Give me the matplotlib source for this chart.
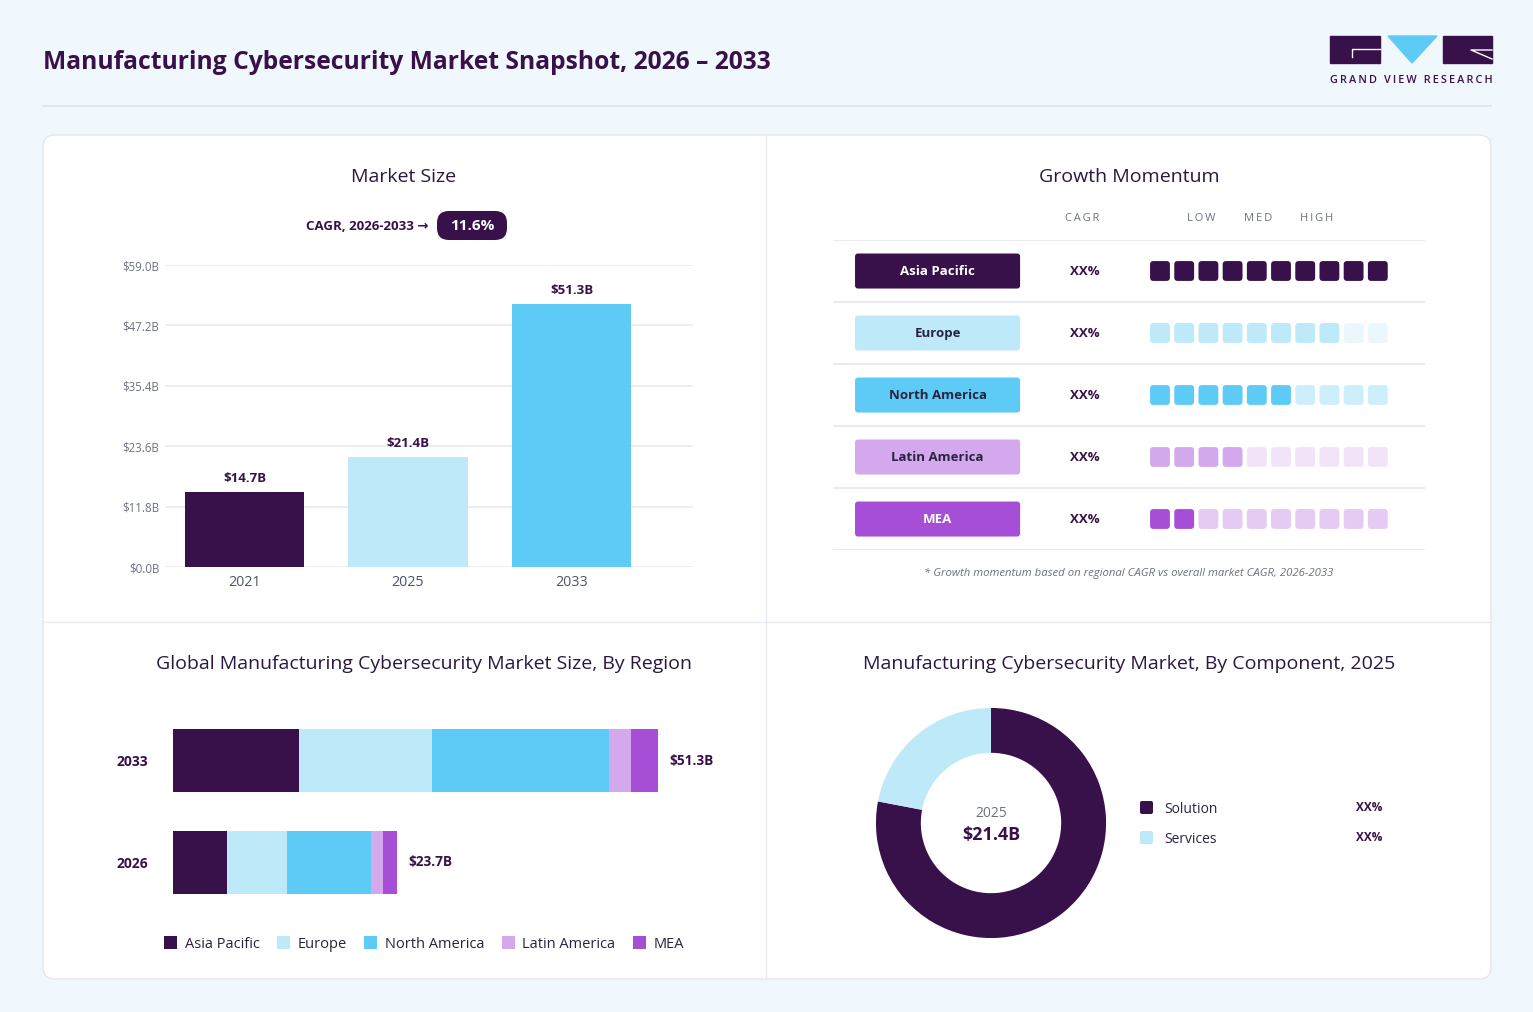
import matplotlib
matplotlib.use("Agg")
from matplotlib import pyplot as plt
from matplotlib.patches import FancyBboxPatch, Rectangle, Polygon, Patch

plt.rcParams['font.family'] = ['Open Sans', 'DejaVu Sans']

# ---- data ----
size_years = ["2021", "2025", "2033"]
size_values = [14.7, 21.4, 51.3]
size_ticks = [0.0, 11.8, 23.6, 35.4, 47.2, 59.0]
cagr_text = "11.6%"

regions = ["Asia Pacific", "Europe", "North America", "Latin America", "MEA"]
momentum_filled = [10, 8, 6, 4, 2]
momentum_total = 10
momentum_cagr = ["XX%", "XX%", "XX%", "XX%", "XX%"]

stack_years = ["2033", "2026"]
stack_values = {
    "Asia Pacific": [13.33, 5.71],
    "Europe": [14.07, 6.35],
    "North America": [18.72, 8.89],
    "Latin America": [2.33, 1.27],
    "MEA": [2.86, 1.48],
}
stack_totals = ["$51.3B", "$23.7B"]

components = ["Solution", "Services"]
component_share = [78, 22]
component_labels = ["XX%", "XX%"]

# ---- colours ----
DARK = "#38104a"
EUROPE = "#bde9f9"
NAM = "#5ecbf7"
LATAM = "#d4a8ec"
MEA = "#a64fd6"
region_colors = [DARK, EUROPE, NAM, LATAM, MEA]
region_empty = [DARK, "#eaf7fd", "#cdeffb", "#f1e4f8", "#e5cbf3"]
region_text = ["white", "#2a2340", "#2a2340", "#2a2340", "white"]
BG = "#f0f7fd"
GRID = "#e6ebf1"
GREY = "#6b7280"
TITLE = "#2a1840"

W, H = 1533, 1012
fig = plt.figure(figsize=(W / 100 + 1e-4, H / 100 + 1e-4), dpi=100, facecolor=BG)


def px_rect(x0, y0, x1, y1):
    return [x0 / W, 1 - y1 / H, (x1 - x0) / W, (y1 - y0) / H]


def spaced(s):
    return "\u2009".join(s)


# background layer in pixel coordinates
bg = fig.add_axes([0, 0, 1, 1], zorder=-1)
bg.set_xlim(0, W)
bg.set_ylim(H, 0)
bg.axis("off")

bg.text(43, 62, "Manufacturing Cybersecurity Market Snapshot, 2026 \u2013 2033",
        fontsize=17.7, fontweight="bold", color=DARK, va="center", ha="left")
bg.plot([43, 1491], [106, 106], color="#dde4ec", lw=1.2)

# logo
bg.add_patch(Rectangle((1330, 36), 50, 27, color=DARK))
bg.add_patch(Polygon([(1388, 36), (1437, 36), (1412, 63)], color=NAM))
bg.add_patch(Rectangle((1443, 36), 49, 27, color=DARK))
bg.plot([1380, 1352, 1352], [49, 49, 57], color="white", lw=1)
bg.plot([1492, 1471, 1492], [59, 50, 50], color="white", lw=1)
bg.text(1411, 80, spaced("GRAND VIEW RESEARCH"), fontsize=7.8, color=DARK,
        ha="center", va="center", fontweight="semibold")

# card
bg.add_patch(FancyBboxPatch((43, 135), 1448, 844,
                            boxstyle="round,pad=0,rounding_size=12",
                            facecolor="white", edgecolor="#e2e8f0", lw=1))
bg.plot([766, 766], [135, 979], color="#e6ebf2", lw=1)
bg.plot([43, 1491], [622, 622], color="#e6ebf2", lw=1)

# panel titles
bg.text(404, 177, "Market Size", fontsize=14, color=TITLE, ha="center", va="center")
bg.text(1129, 177, "Growth Momentum", fontsize=14, color=TITLE, ha="center", va="center")
bg.text(424, 664, "Global Manufacturing Cybersecurity Market Size, By Region",
        fontsize=14, color=TITLE, ha="center", va="center")
bg.text(1129, 664, "Manufacturing Cybersecurity Market, By Component, 2025",
        fontsize=14, color=TITLE, ha="center", va="center")

# CAGR pill
bg.text(428, 226, "CAGR, 2026-2033 \u2192", fontsize=9.5, fontweight="bold",
        color=DARK, ha="right", va="center")
bg.add_patch(FancyBboxPatch((437, 211), 70, 29, boxstyle="round,pad=0,rounding_size=12",
                            facecolor=DARK, edgecolor="none"))
bg.text(472, 226, cagr_text, fontsize=11, fontweight="bold", color="white",
        ha="center", va="center")

# ---- Market size bars ----
ax1 = fig.add_axes(px_rect(165, 265, 693, 567))
ax1.set_facecolor("none")
xpos = range(len(size_years))
ax1.bar(xpos, size_values, width=0.73, color=[DARK, EUROPE, NAM], zorder=3)
for x, v in zip(xpos, size_values):
    ax1.text(x, v + 1.4, f"${v:.1f}B", ha="center", va="bottom", fontsize=9.5,
             fontweight="bold", color=DARK)
ax1.set_ylim(0, 59)
ax1.set_xlim(-0.486, 2.743)
ax1.set_yticks(size_ticks)
ax1.set_yticklabels([f"${t:.1f}B" for t in size_ticks], fontsize=8.3, color=GREY)
ax1.set_xticks(list(xpos))
ax1.set_xticklabels(size_years, fontsize=10.3, color="#4b5563")
ax1.tick_params(length=0, pad=4)
ax1.tick_params(axis="x", pad=6)
ax1.yaxis.grid(True, color=GRID, lw=1.2)
for s in ax1.spines.values():
    s.set_visible(False)

# ---- Growth momentum ----
bg.text(1082, 218, spaced("CAGR"), fontsize=8, color=GREY, ha="center", va="center")
bg.text(1201, 218, spaced("LOW"), fontsize=8, color=GREY, ha="center", va="center")
bg.text(1258, 218, spaced("MED"), fontsize=8, color=GREY, ha="center", va="center")
bg.text(1317, 218, spaced("HIGH"), fontsize=8, color=GREY, ha="center", va="center")

ax2 = fig.add_axes(px_rect(833, 240, 1425, 550))
ax2.set_facecolor("none")
ax2.set_xlim(-13.1, 11.36)
ax2.set_ylim(4.5, -0.5)
ax2.axis("off")
asp = (1 / 62) / (1 / 24.2)
for i in range(len(regions) + 1):
    ax2.axhline(i - 0.5, color="#e3e9f0", lw=1.2)
for i, reg in enumerate(regions):
    ax2.add_patch(FancyBboxPatch((-12.19, i - 0.282), 6.82, 0.565,
                                 boxstyle="round,pad=0,rounding_size=0.12",
                                 mutation_aspect=asp, facecolor=region_colors[i],
                                 edgecolor="none"))
    ax2.text(-8.78, i, reg, ha="center", va="center", fontsize=9.5,
             fontweight="bold", color=region_text[i])
    ax2.text(-2.69, i, momentum_cagr[i], ha="center", va="center", fontsize=9.5,
             fontweight="bold", color=DARK)
    for j in range(momentum_total):
        c = region_colors[i] if j < momentum_filled[i] else region_empty[i]
        ax2.add_patch(FancyBboxPatch((j, i - 0.16), 0.82, 0.32,
                                     boxstyle="round,pad=0,rounding_size=0.14",
                                     mutation_aspect=asp, facecolor=c, edgecolor="none"))
bg.text(1129, 573, "* Growth momentum based on regional CAGR vs overall market CAGR, 2026-2033",
        fontsize=8.2, style="italic", color=GREY, ha="center", va="center")

# ---- Stacked regions ----
ax3 = fig.add_axes(px_rect(173, 700, 723, 920))
ax3.set_facecolor("none")
ypos = list(range(len(stack_years)))
left = [0.0] * len(stack_years)
for reg, col in zip(regions, region_colors):
    vals = stack_values[reg]
    ax3.barh(ypos, vals, left=left, height=0.62, color=col, label=reg)
    left = [l + v for l, v in zip(left, vals)]
for y, tot, lab in zip(ypos, left, stack_totals):
    ax3.text(tot + 1.2, y, lab, va="center", ha="left", fontsize=9.8,
             fontweight="bold", color=DARK)
ax3.set_xlim(0, 550 / 485 * 51.3)
ax3.set_ylim(1.571, -0.596)
ax3.set_xticks([])
ax3.set_yticks(ypos)
ax3.set_yticklabels(stack_years, fontsize=10, fontweight="bold", color=DARK)
ax3.tick_params(length=0, pad=18)
for s in ax3.spines.values():
    s.set_visible(False)
handles = [Patch(facecolor=c, edgecolor="none", label=r) for r, c in zip(regions, region_colors)]
ax3.legend(handles=handles, loc="center", bbox_to_anchor=(424 / W, 1 - 944 / H),
           bbox_transform=fig.transFigure, ncol=5, frameon=False, fontsize=10.5,
           handlelength=0.9, handleheight=0.9, handletextpad=0.5, columnspacing=1.2,
           labelcolor="#2a2340")

# ---- Donut ----
ax4 = fig.add_axes(px_rect(871, 703, 1111, 943))
ax4.set_facecolor("none")
ax4.pie(component_share, colors=[DARK, EUROPE], startangle=90, counterclock=False,
        radius=1, wedgeprops=dict(width=0.39, edgecolor="none"))
ax4.set_xlim(-1.043, 1.043)
ax4.set_ylim(-1.043, 1.043)
ax4.text(0, 0.08, "2025", ha="center", va="center", fontsize=10, color=GREY)
ax4.text(0, -0.1, "$21.4B", ha="center", va="center", fontsize=13,
         fontweight="bold", color=DARK)

comp_colors = [DARK, EUROPE]
for k, (name, lab) in enumerate(zip(components, component_labels)):
    yy = 807 + 30 * k
    bg.add_patch(FancyBboxPatch((1140, yy - 6), 13, 13, boxstyle="round,pad=0,rounding_size=2",
                                facecolor=comp_colors[k], edgecolor="none"))
    bg.text(1164, yy + 2, name, fontsize=10, color="#2a2340", ha="left", va="center")
    bg.text(1382, yy, lab, fontsize=8.5, fontweight="bold", color=DARK, ha="right", va="center")

fig.savefig("out.png", dpi=100, facecolor=BG)
